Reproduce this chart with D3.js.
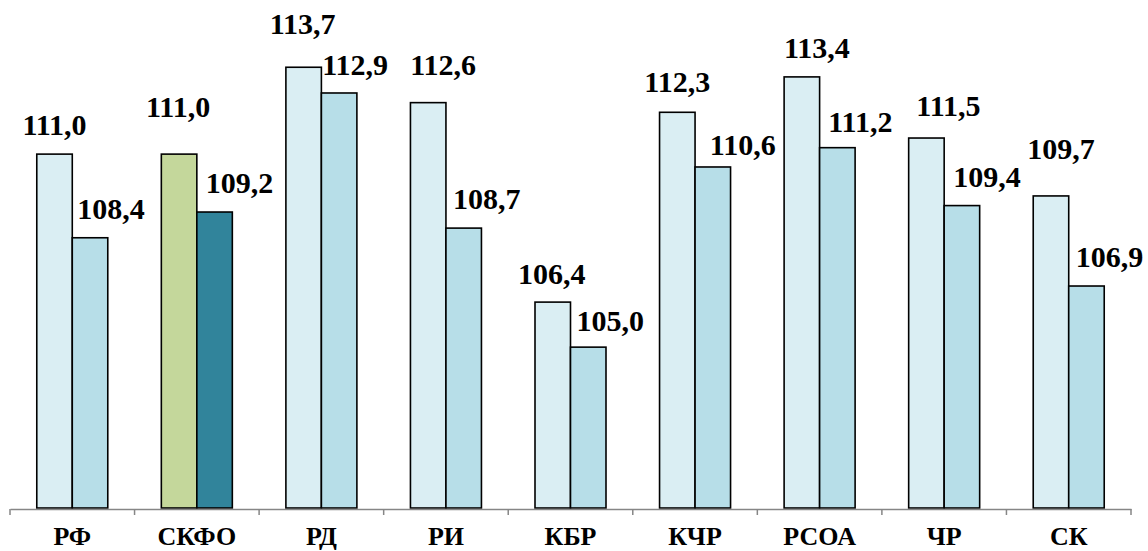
<!DOCTYPE html>
<html>
<head>
<meta charset="utf-8">
<script src="https://cdn.jsdelivr.net/npm/d3@7"></script>
<style>
  html, body { margin: 0; padding: 0; background: #fff; }
  #chart { width: 1148px; height: 551px; }
  svg text { font-family: "Times New Roman", "Liberation Serif", serif; font-weight: bold; fill: #000; }
</style>
</head>
<body>
<div id="chart"></div>
<script>
'use strict';

// data
var categories = ["РФ", "СКФО", "РД", "РИ", "КБР", "КЧР", "РСОА", "ЧР", "СК"];
var seriesA = [111.0, 111.0, 113.7, 112.6, 106.4, 112.3, 113.4, 111.5, 109.7];
var seriesB = [108.4, 109.2, 112.9, 108.7, 105.0, 110.6, 111.2, 109.4, 106.9];
var yDomain = [100, 114];

// manual label nudges (dx, dy from bar top) - labels were hand placed in the original
var nudgeA = [[0, -19], [-1, -37], [-1, -33], [15, -28], [-1, -18], [0, -20], [15, -19], [22, -22], [10, -37]];
var nudgeB = [[21, -19], [25, -19], [16, -18], [23, -19], [22, -16], [30, -12], [23, -16], [25, -19], [23, -19]];

var colorsA = ["#DAEEF3", "#C4D79B"];
var colorsB = ["#B7DEE8", "#31849B"];

var FONT = '"Times New Roman", "Liberation Serif", serif';

var w = 1148, h = 551;
var margin = {left: 10, right: 17, top: 57.6, bottom: 43};

var svg = d3.select("#chart").append("svg")
  .attr("width", w)
  .attr("height", h);

var x0 = d3.scaleBand()
  .domain(categories)
  .range([margin.left, w - margin.right])
  .padding(0);

var x1 = d3.scaleBand()
  .domain(["a", "b"])
  .range([x0.bandwidth() * 0.215, x0.bandwidth() * 0.785]);

var y = d3.scaleLinear()
  .domain(yDomain)
  .range([h - margin.bottom, margin.top]);

var rows = categories.map(function(c, i) {
  return {cat: c, i: i, vals: [
    {key: "a", v: seriesA[i], nudge: nudgeA[i], fill: i === 1 ? colorsA[1] : colorsA[0]},
    {key: "b", v: seriesB[i], nudge: nudgeB[i], fill: i === 1 ? colorsB[1] : colorsB[0]}
  ]};
});

var fmt = function(v) { return d3.format(".1f")(v).replace(".", ","); };

var group = svg.append("g").selectAll("g")
  .data(rows)
  .enter().append("g")
    .attr("transform", function(d) { return "translate(" + x0(d.cat) + ",0)"; });

group.selectAll("rect")
  .data(function(d) { return d.vals; })
  .enter().append("rect")
    .attr("x", function(d) { return x1(d.key); })
    .attr("y", function(d) { return y(d.v); })
    .attr("width", x1.bandwidth())
    .attr("height", function(d) { return y(yDomain[0]) - y(d.v); })
    .attr("fill", function(d) { return d.fill; })
    .attr("stroke", "#000")
    .attr("stroke-width", 1.6);

// axis
var axis = d3.axisBottom(x0).tickSize(0).tickPadding(0);
var gx = svg.append("g")
  .attr("transform", "translate(0," + (y(yDomain[0]) + 1) + ")")
  .call(axis)
  .attr("font-family", FONT);
gx.select(".domain").attr("stroke", "#868686").attr("stroke-width", 1.5);
gx.selectAll(".tick text")
  .attr("y", 36)
  .attr("dy", 0)
  .attr("font-family", FONT)
  .attr("font-weight", "bold")
  .style("font-size", "26px");

// tick marks on category boundaries
var bounds = categories.map(function(c) { return x0(c); }).concat([x0.range()[1]]);
gx.selectAll(".bound")
  .data(bounds)
  .enter().append("line")
    .attr("class", "bound")
    .attr("x1", function(d) { return d; })
    .attr("x2", function(d) { return d; })
    .attr("y1", 0)
    .attr("y2", 6)
    .attr("stroke", "#868686")
    .attr("stroke-width", 1.5);

// value labels
group.selectAll("text.val")
  .data(function(d) { return d.vals; })
  .enter().append("text")
    .attr("class", "val")
    .attr("text-anchor", "middle")
    .attr("font-family", FONT)
    .attr("font-weight", "bold")
    .attr("x", function(d) { return x1(d.key) + x1.bandwidth() / 2 + d.nudge[0]; })
    .attr("y", function(d) { return y(d.v) + d.nudge[1]; })
    .style("font-size", "30px")
    .text(function(d) { return fmt(d.v); });
</script>
</body>
</html>
